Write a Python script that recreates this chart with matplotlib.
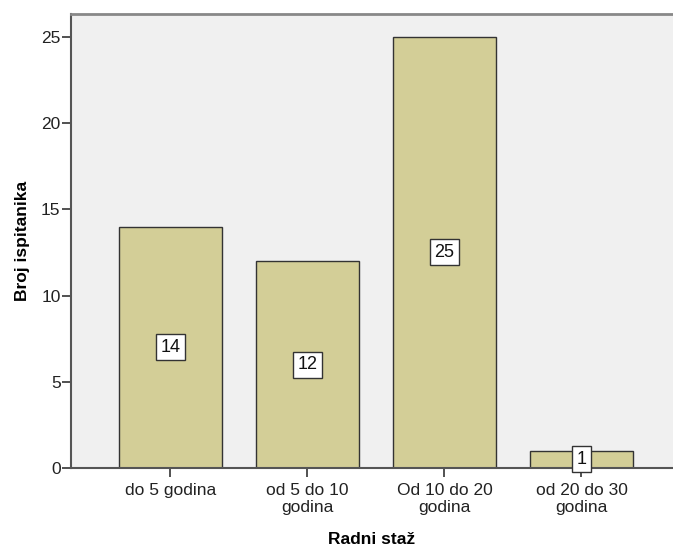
import matplotlib
matplotlib.use("Agg")
import matplotlib.pyplot as plt

categories = ["do 5 godina", "od 5 do 10\ngodina", "Od 10 do 20\ngodina", "od 20 do 30\ngodina"]
counts = [14, 12, 25, 1]
yticks = [0, 5, 10, 15, 20, 25]

plt.rcParams['font.family'] = ['Liberation Sans', 'DejaVu Sans']

fig = plt.figure(figsize=(6.73, 5.49), dpi=100)
ax = fig.add_axes([71/673, 1-468/549, 1-71/673, (468-14)/549])
ax.set_facecolor('#F0F0F0')

x = list(range(len(categories)))
ax.bar(x, counts, width=0.75, color='#D3CE97', edgecolor='#333333', linewidth=1.0, zorder=2)
for xi, v in zip(x, counts):
    ax.text(xi, v/2, str(v), ha='center', va='center', fontsize=13, color='#111111', zorder=3,
            bbox=dict(boxstyle='square,pad=0.25', facecolor='white', edgecolor='#333333', linewidth=1.0))

ax.set_xlim(-0.726, 3.668)
ax.set_ylim(0, 26.33)
ax.set_xticks(x)
ax.set_xticklabels(categories, fontsize=12.5, color='#222222', linespacing=1.2)
ax.set_yticks(yticks)
ax.set_yticklabels([str(t) for t in yticks], fontsize=12.5, color='#222222')
ax.tick_params(axis='both', direction='out', length=6.5, width=1.2, color='#333333')
ax.tick_params(axis='x', pad=4)
ax.tick_params(axis='y', pad=1)

ax.spines['right'].set_visible(False)
ax.spines['left'].set_color('#555555')
ax.spines['left'].set_linewidth(1.5)
ax.spines['bottom'].set_color('#555555')
ax.spines['bottom'].set_linewidth(1.5)
ax.spines['top'].set_color('#888888')
ax.spines['top'].set_linewidth(2)

ax.set_xlabel('Radni staž', fontsize=12.5, fontweight='bold', labelpad=12)
ax.set_ylabel('Broj ispitanika', fontsize=12.5, fontweight='bold', labelpad=8)

fig.savefig('out.png', dpi=100)
